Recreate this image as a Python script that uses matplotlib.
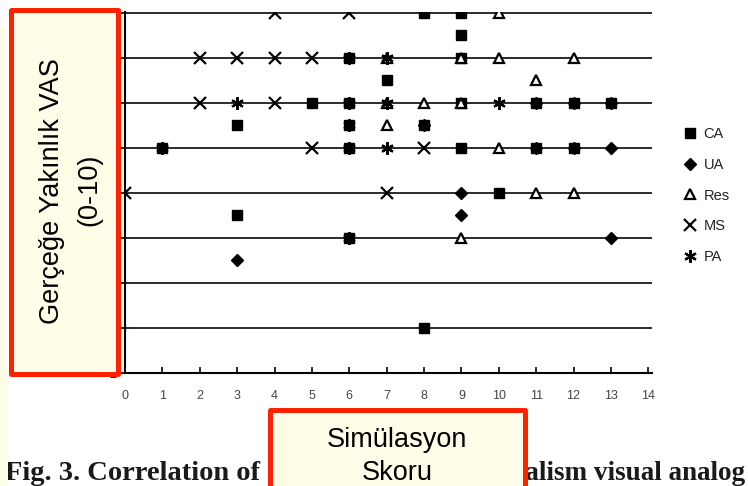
import matplotlib.pyplot as plt
from matplotlib.patches import Rectangle

# Veriler
ca_x = [8, 9, 9, 6, 9, 7, 5, 6, 9, 11, 12, 13, 3, 6, 8, 1, 6, 9, 11, 12, 10, 3, 6, 8]
ca_y = [10, 10, 9.5, 9, 9, 8.5, 8, 8, 8, 8, 8, 8, 7.5, 7.5, 7.5, 7, 7, 7, 7, 7, 6, 5.5, 5, 3]

ua_x = [11, 12, 13, 8, 11, 12, 13, 9, 9, 13, 3]
ua_y = [8, 8, 8, 7.5, 7, 7, 7, 6, 5.5, 5, 4.5]

res_x = [10, 7, 9, 10, 12, 11, 7, 8, 9, 7, 10, 11, 12, 9]
res_y = [10, 9, 9, 9, 9, 8.5, 8, 8, 8, 7.5, 7, 6, 6, 5]

ms_x = [4, 6, 2, 3, 4, 5, 2, 4, 5, 8, 0, 7]
ms_y = [10, 10, 9, 9, 9, 9, 8, 8, 7, 7, 6, 6]

pa_x = [6, 7, 3, 6, 7, 10, 6, 1, 6, 7, 6]
pa_y = [9, 9, 8, 8, 8, 8, 7.5, 7, 7, 7, 5]

x_ticks = list(range(0, 15))
y_ticks = list(range(2, 11))
grid_levels = list(range(3, 11))

W, H = 748, 486


def fx(px):
    return px / W


def fy(py):
    return 1 - py / H


fig = plt.figure(figsize=(W / 100, H / 100), dpi=100)
fig.patch.set_facecolor('white')

ax = fig.add_axes([fx(125), fy(373), (652 - 125) / W, (373 - 12) / H])
ax.set_xlim(0, 14.1)
ax.set_ylim(2, 10.02)

for lev in grid_levels:
    ax.axhline(lev, color='#1a1a1a', lw=1.3, zorder=1)

ax.plot(ca_x, ca_y, 's', color='black', ms=6.5, ls='none', label='CA', zorder=3)
ax.plot(ua_x, ua_y, 'D', color='black', ms=6, ls='none', label='UA', zorder=3)
ax.plot(res_x, res_y, '^', mfc='white', mec='black', mew=1.6, ms=7.5, ls='none',
        label='Res', zorder=4)
ax.plot(ms_x, ms_y, 'x', color='black', mew=1.6, ms=8, ls='none', label='MS', zorder=4)
ax.plot(pa_x, pa_y, marker=(6, 2, 0), color='black', mew=1.6, ms=9, ls='none',
        label='PA', zorder=4)

ax.spines['top'].set_visible(False)
ax.spines['right'].set_visible(False)
ax.spines['left'].set_linewidth(1.5)
ax.spines['bottom'].set_linewidth(1.5)

ax.set_xticks(x_ticks)
ax.set_yticks(y_ticks)
ax.tick_params(axis='x', direction='in', length=4, width=1.2, pad=12,
               labelsize=9, labelcolor='#444444')
ax.tick_params(axis='y', direction='out', length=3, width=1.2, labelsize=9)
for lbl in ax.get_xticklabels() + ax.get_yticklabels():
    lbl.set_family('Liberation Sans')

leg = ax.legend(loc='upper left', bbox_to_anchor=(fx(683), fy(127)),
                bbox_transform=fig.transFigure, frameon=False, numpoints=1,
                handlelength=1.0, handletextpad=0.4, labelspacing=1.15,
                borderpad=0, borderaxespad=0,
                prop={'family': 'Liberation Sans', 'size': 10.5})
for t in leg.get_texts():
    t.set_color('#222222')

# alt yazi (ortasi kutunun arkasinda kalir)
fig.text(fx(5), fy(480), 'Fig. 3. Correlation of', ha='left', va='baseline',
         family='Liberation Serif', weight='bold', fontsize=20.5, color='#1a1a1a', zorder=1)
fig.text(fx(745), fy(480), 'the realism visual analog', ha='right', va='baseline',
         family='Liberation Serif', weight='bold', fontsize=19.5, color='#1a1a1a', zorder=1)

# sol sari serit
fig.patches.append(Rectangle((0, fy(486)), fx(8), (486 - 28) / H, transform=fig.transFigure,
                             facecolor='#fefde6', edgecolor='none', zorder=2))

# kirmizi cerceveli kutular
box_kw = dict(transform=fig.transFigure, facecolor='#fffde8', edgecolor='#ff2200',
              lw=3.6, joinstyle='round', zorder=5)
fig.patches.append(Rectangle((fx(10.7), fy(373.5)), (117.5 - 10.7) / W, (373.5 - 10.5) / H,
                             **box_kw))
fig.patches.append(Rectangle((fx(269.5), fy(500)), (524.5 - 269.5) / W, (500 - 410) / H,
                             **box_kw))

txt_kw = dict(family='Liberation Sans', fontsize=19.5, color='black', zorder=6)
fig.text(fx(59), fy(191), 'Gerçeğe Yakınlık VAS', rotation=90, rotation_mode='anchor',
         ha='center', va='baseline', **txt_kw)
fig.text(fx(96), fy(190), '(0-10)', rotation=90, rotation_mode='anchor',
         ha='center', va='baseline', **txt_kw)
fig.text(fx(397), fy(447), 'Simülasyon', ha='center', va='baseline', **txt_kw)
fig.text(fx(397), fy(480), 'Skoru', ha='center', va='baseline', **txt_kw)

fig.savefig('out.png', dpi=100)
